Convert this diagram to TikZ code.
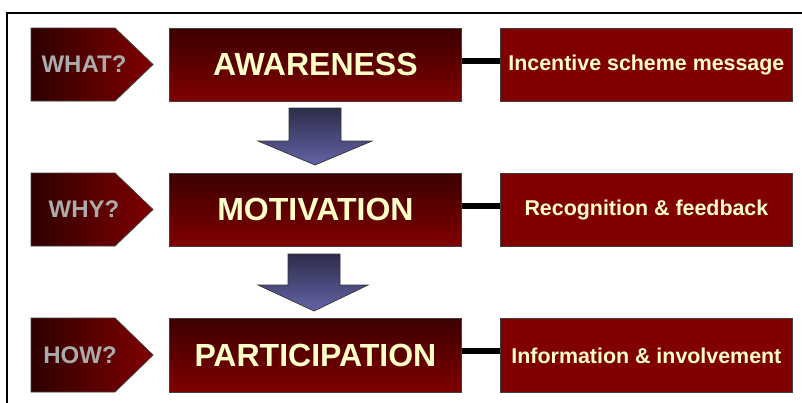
\documentclass[tikz,border=0pt]{standalone}
\usepackage{fontspec}
\setmainfont{Liberation Sans}
\definecolor{stagetop}{HTML}{3C0000}
\definecolor{stagebot}{HTML}{800000}
\definecolor{tagleft}{HTML}{2E0000}
\definecolor{cream}{HTML}{FFFFC8}
\definecolor{qgray}{HTML}{ABABAB}
\definecolor{arrowtop}{HTML}{2C2C4C}
\definecolor{arrowbot}{HTML}{6464A6}
\begin{document}
\begin{tikzpicture}[x=1pt,y=-1pt,
  edge/.style={draw=black!75, line width=0.8pt},
  stage/.style={edge, top color=stagetop, bottom color=stagebot,
    minimum width=292pt, minimum height=73pt, inner sep=0pt, anchor=north west,
    text=cream, font=\bfseries\fontsize{32}{36}\selectfont},
  detail/.style={edge, fill=stagebot,
    minimum width=292pt, minimum height=73pt, inner sep=0pt, anchor=north west,
    text=cream, font=\bfseries\fontsize{21.4}{24}\selectfont},
  tagshape/.style={edge, left color=tagleft, right color=stagebot},
  tagtext/.style={text=qgray, font=\bfseries\fontsize{24}{28}\selectfont, inner sep=0pt},
  blockarrow/.style={draw=black!80, line width=0.7pt, top color=arrowtop, bottom color=arrowbot},
  link/.style={line width=6pt, black}]
\useasboundingbox (0,0) rectangle (802,402);

% frame (only its top and left sides fall inside the page)
\draw[line width=1.3pt] (7,420) -- (7,13) -- (820,13);

% question tags
\path[tagshape] (31,28) -- (115,28) -- (153,64.5) -- (115,101) -- (31,101) -- cycle;
\path[tagshape] (31,173) -- (115,173) -- (153,209.5) -- (115,246) -- (31,246) -- cycle;
\path[tagshape] (31,318) -- (115,318) -- (153,355) -- (115,392) -- (31,392) -- cycle;
\node[tagtext] (what) at (84,64.5) {WHAT?};
\node[tagtext] (why) at (84,209.5) {WHY?};
\node[tagtext] (how) at (80,355) {HOW?};

% stages
\node[stage] (aware) at (169,28) {AWARENESS};
\node[stage] (motiv) at (169,173) {MOTIVATION};
\node[stage, minimum height=74pt] (partic) at (169,318) {PARTICIPATION};

% details
\node[detail] (msg) at (500,28) {Incentive scheme message};
\node[detail] (recog) at (500,173) {Recognition \& feedback};
\node[detail, minimum height=74pt] (info) at (500,318) {Information \& involvement};

% links
\draw[link] ([yshift=4pt]aware.east) -- ([yshift=4pt]msg.west);
\draw[link] ([yshift=4pt]motiv.east) -- ([yshift=4pt]recog.west);
\draw[link] ([yshift=4pt]partic.east) -- ([yshift=4pt]info.west);

% block arrows between stages
\path[blockarrow] (289,108) -- (341,108) -- (341,141) -- (372,141) -- (315,165)
  -- (258,141) -- (289,141) -- cycle;
\path[blockarrow] (288,254) -- (340,254) -- (340,285) -- (368,285) -- (314,311)
  -- (258,285) -- (288,285) -- cycle;
\end{tikzpicture}
\end{document}
